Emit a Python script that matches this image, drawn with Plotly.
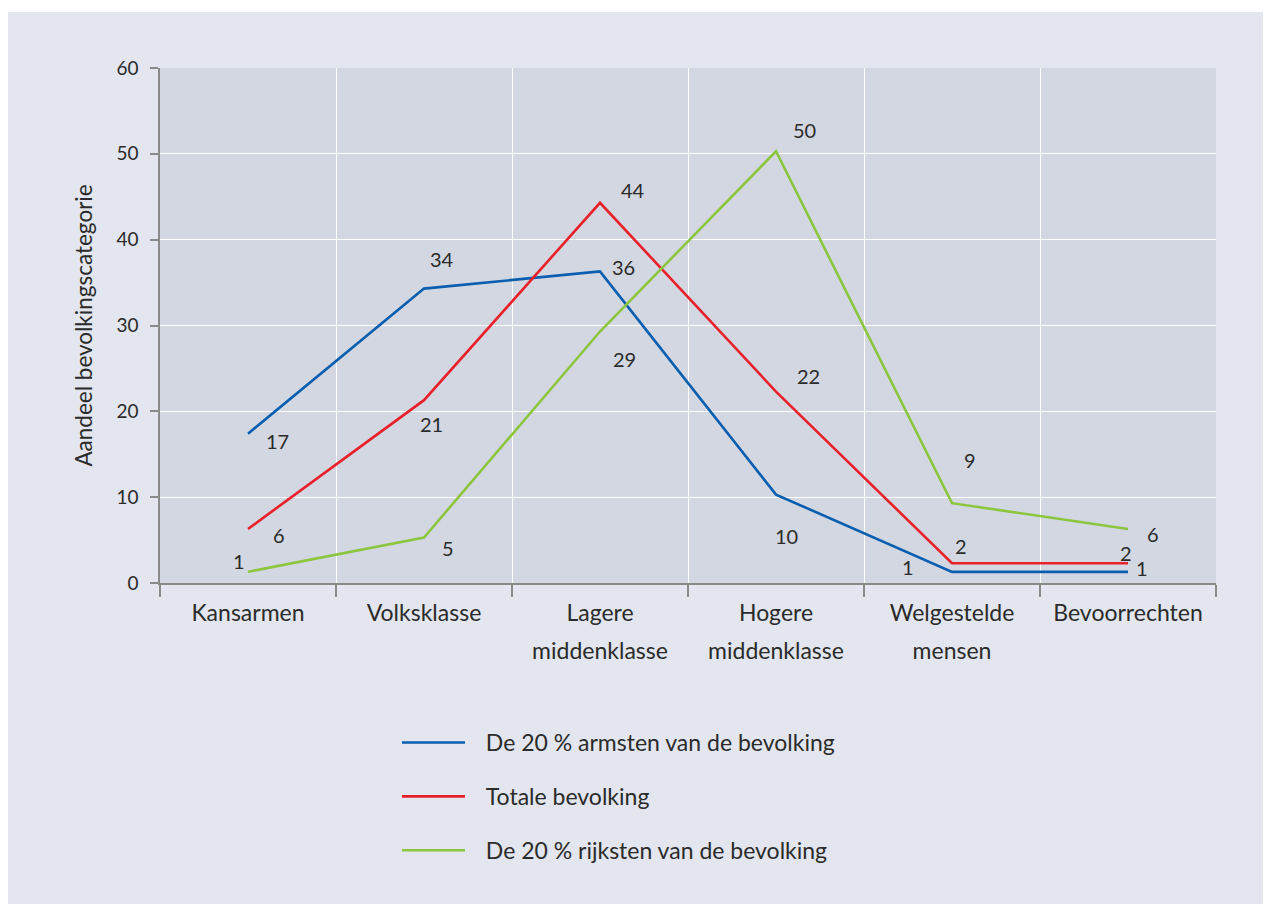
import plotly.graph_objects as go

# ---------------- data ----------------
categories = ["Kansarmen", "Volksklasse", "Lagere", "Hogere", "Welgestelde", "Bevoorrechten"]
categories_line2 = ["", "", "middenklasse", "middenklasse", "mensen", ""]

series_names = [
    "De 20 % armsten van de bevolking",
    "Totale bevolking",
    "De 20 % rijksten van de bevolking",
]
armsten = [17.4, 34.3, 36.3, 10.3, 1.3, 1.3]
totaal = [6.3, 21.3, 44.3, 22.3, 2.3, 2.3]
rijksten = [1.3, 5.3, 29.3, 50.3, 9.3, 6.3]

armsten_labels = [17, 34, 36, 10, 1, 1]
totaal_labels = [6, 21, 44, 22, 2, 2]
rijksten_labels = [1, 5, 29, 50, 9, 6]

y_ticks = [0, 10, 20, 30, 40, 50, 60]
y_title = "Aandeel bevolkingscategorie"

# ---------------- style ----------------
colors = ["#0a5eb0", "#e8202a", "#8cc63f"]
# label offsets in pixels (dx right, dy down) per series / point
label_offsets = [
    [(29, 7), (18, -30), (23, -4), (10, 41), (-44, -5), (14, -4)],
    [(31, 6), (7, 24), (33, -13), (32, -16), (9, -17), (-2, -10)],
    [(-9, -11), (24, 10), (24, 27), (28, -21), (18, -43), (25, 5)],
]
FONT = "Lato"
TXT = "#2b2b2b"
OFF = 8  # page body margin
W, H = 1271 - OFF, 904 - OFF
ML, MR, MT, MB = 160 - OFF, W - (1216 - OFF), 68 - OFF, H - (583 - OFF)
PW, PH = W - ML - MR, H - MT - MB


def px_x(px):
    return (px - OFF - ML) / PW


def px_y(py):
    return (583 - py) / PH


fig = go.Figure()
all_series = [armsten, totaal, rijksten]
all_labels = [armsten_labels, totaal_labels, rijksten_labels]

for i, (name, vals) in enumerate(zip(series_names, all_series)):
    fig.add_trace(go.Scatter(
        x=categories, y=vals, mode="lines", name="\u2002\u2009\u200a" + name,
        line=dict(color=colors[i], width=2.6),
        legendgroup=f"g{i}", hoverinfo="x+y",
    ))

# invisible trace to carry the second line of category labels
fig.add_trace(go.Scatter(
    x=categories, y=[None] * len(categories), xaxis="x2", mode="lines",
    showlegend=False, hoverinfo="skip",
))

annotations = []
for i, (vals, labs) in enumerate(zip(all_series, all_labels)):
    for j, (c, v, lab) in enumerate(zip(categories, vals, labs)):
        dx, dy = label_offsets[i][j]
        annotations.append(dict(
            x=c, y=v, xref="x", yref="y", text=str(lab), showarrow=False,
            xshift=dx, yshift=-dy, font=dict(family=FONT, size=20, color=TXT),
        ))

shapes = [
    # outer panel
    dict(type="rect", xref="paper", yref="paper", layer="below",
         x0=px_x(8), x1=px_x(1280), y0=px_y(910), y1=px_y(12),
         fillcolor="#e3e6ee", line=dict(width=0)),
    # plot area
    dict(type="rect", xref="paper", yref="paper", layer="below",
         x0=0, x1=1, y0=0, y1=1, fillcolor="#d3d7e1", line=dict(width=0)),
]

fig.update_layout(
    width=W, height=H,
    margin=dict(l=ML, r=MR, t=MT, b=MB),
    paper_bgcolor="white",
    plot_bgcolor="rgba(0,0,0,0)",
    font=dict(family=FONT, color=TXT),
    showlegend=True,
    legend=dict(
        x=px_x(397), xanchor="left",
        y=px_y(721), yanchor="top",
        bgcolor="rgba(0,0,0,0)",
        font=dict(family=FONT, size=23, color=TXT),
        tracegroupgap=21, itemwidth=63,
    ),
    xaxis=dict(
        type="category", categoryorder="array", categoryarray=categories,
        range=[-0.5, len(categories) - 0.5],
        tickson="boundaries", ticks="outside", ticklen=12, tickcolor="#8a8a8a", tickwidth=1.5,
        showline=True, linecolor="#8a8a8a", linewidth=1.5,
        showgrid=True, gridcolor="white", gridwidth=1.2,
        tickfont=dict(family=FONT, size=23, color=TXT),
        ticklabelstandoff=9,
        zeroline=False, fixedrange=True,
    ),
    xaxis2=dict(
        type="category", categoryorder="array", categoryarray=categories,
        range=[-0.5, len(categories) - 0.5],
        overlaying="x", side="bottom", anchor="y",
        tickmode="array", tickvals=categories, ticktext=categories_line2,
        ticks="", showline=False, showgrid=False, zeroline=False,
        tickfont=dict(family=FONT, size=23, color=TXT),
        ticklabelstandoff=52, fixedrange=True,
    ),
    yaxis=dict(
        range=[0, 60], tickvals=y_ticks,
        ticks="outside", ticklen=8, tickcolor="#8a8a8a", tickwidth=1.5,
        showline=True, linecolor="#8a8a8a", linewidth=1.5,
        showgrid=True, gridcolor="white", gridwidth=1.2,
        tickfont=dict(family=FONT, size=19, color=TXT),
        ticklabelstandoff=8,
        zeroline=False, fixedrange=True,
        title=dict(text=y_title, font=dict(family=FONT, size=22.5, color=TXT), standoff=18),
    ),
    annotations=annotations,
    shapes=shapes,
)

fig.write_html("out.html")
